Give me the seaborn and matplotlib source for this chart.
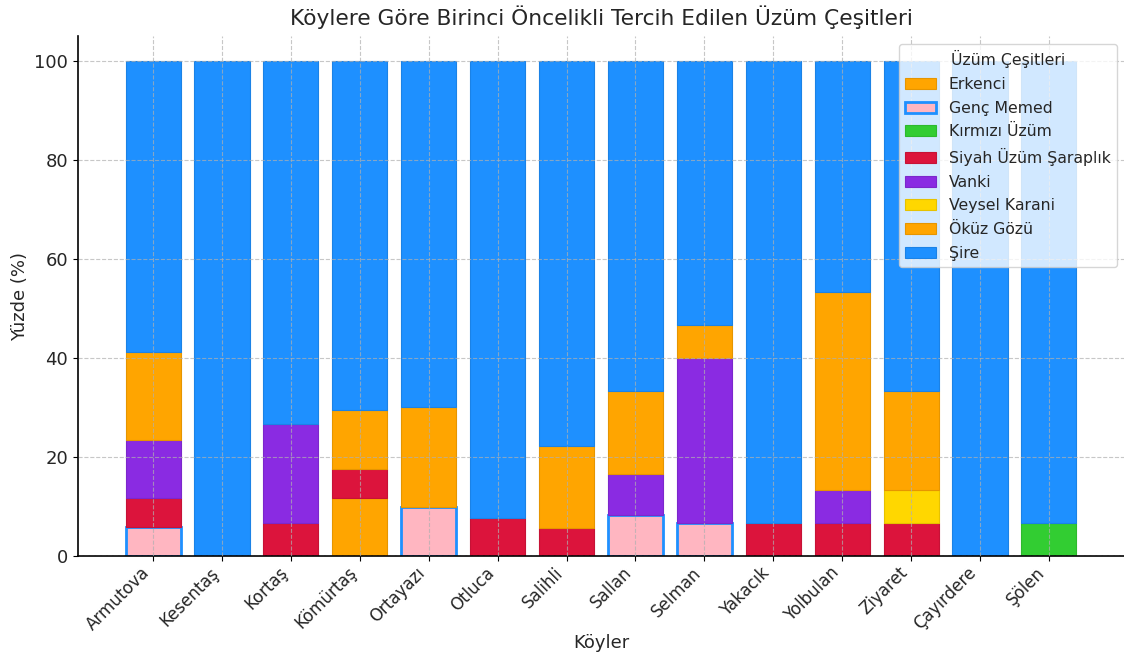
import matplotlib
matplotlib.use("Agg")
import matplotlib.pyplot as plt
import matplotlib.colors as mcolors
import seaborn as sns
import pandas as pd

villages = ["Armutova", "Kesentaş", "Kortaş", "Kömürtaş", "Ortayazı", "Otluca",
            "Salihli", "Sallan", "Selman", "Yakacık", "Yolbulan", "Ziyaret",
            "Çayırdere", "Şölen"]

# share (%) of each grape variety per village, stacked bottom to top
erkenci       = [0, 0, 0, 11.76, 0, 0, 0, 0, 0, 0, 0, 0, 0, 0]
genc_memed    = [5.88, 0, 0, 0, 10.0, 0, 0, 8.33, 6.67, 0, 0, 0, 0, 0]
kirmizi_uzum  = [0, 0, 0, 0, 0, 0, 0, 0, 0, 0, 0, 0, 0, 6.67]
siyah_uzum    = [5.88, 0, 6.67, 5.88, 0, 7.69, 5.56, 0, 0, 6.67, 6.67, 6.67, 0, 0]
vanki         = [11.76, 0, 20.0, 0, 0, 0, 0, 8.33, 33.33, 0, 6.67, 0, 0, 0]
veysel_karani = [0, 0, 0, 0, 0, 0, 0, 0, 0, 0, 0, 6.67, 0, 0]
okuz_gozu     = [17.65, 0, 0, 11.76, 20.0, 0, 16.67, 16.67, 6.67, 0, 40.0, 20.0, 0, 0]
sire          = [58.82, 100.0, 73.33, 70.59, 70.0, 92.31, 77.78, 66.67, 53.33,
                 93.33, 46.67, 66.67, 100.0, 93.33]

varieties = ["Erkenci", "Genç Memed", "Kırmızı Üzüm", "Siyah Üzüm Şaraplık",
             "Vanki", "Veysel Karani", "Öküz Gözü", "Şire"]
series = [erkenci, genc_memed, kirmizi_uzum, siyah_uzum, vanki,
          veysel_karani, okuz_gozu, sire]
colors = ["#FFA500", "#FFB6C1", "#32CD32", "#DC143C", "#8A2BE2",
          "#FFD700", "#FFA500", "#1E90FF"]

sns.set_style("white")
plt.rcParams["font.family"] = ["DejaVu Sans"]

fig = plt.figure(figsize=(11.24, 6.57), dpi=100)
ax = fig.add_axes([0.0694, 0.1537, 0.9306, 0.7913])

bottom = [0.0] * len(villages)
for name, vals, col in zip(varieties, series, colors):
    df = pd.DataFrame({"Köy": villages, "val": vals, "bottom": bottom})
    df = df[df["val"] > 0]
    if name == "Genç Memed":
        edge, lw = "#1E90FF", 2.0
    else:
        r, g, b = mcolors.to_rgb(col)
        edge, lw = (r * 0.9, g * 0.9, b * 0.9), 0.8
    sns.barplot(data=df, x="Köy", y="val", order=villages, color=col,
                saturation=1, width=0.8, bottom=df["bottom"].values,
                edgecolor=edge, linewidth=lw, ax=ax, label=name)
    bottom = [b + v for b, v in zip(bottom, vals)]

ax.set_xlim(-1.09, 14.09)
ax.set_ylim(0, 105)
ax.set_axisbelow(False)
ax.grid(True, linestyle="--", color="#b0b0b0", linewidth=0.8, alpha=0.7)
for side in ("top", "right"):
    ax.spines[side].set_visible(False)
for side in ("left", "bottom"):
    ax.spines[side].set_color("black")
    ax.spines[side].set_linewidth(1.2)
ax.tick_params(axis="both", length=3.5, color="black", bottom=True, left=True)
ax.tick_params(axis="x", labelsize=12, pad=2)
ax.tick_params(axis="y", labelsize=13)
plt.setp(ax.get_xticklabels(), rotation=45, ha="right")

ax.set_title("Köylere Göre Birinci Öncelikli Tercih Edilen Üzüm Çeşitleri",
             fontsize=15.7, pad=8)
ax.set_xlabel("Köyler", fontsize=13, labelpad=0)
ax.set_ylabel("Yüzde (%)", fontsize=13)

leg = ax.legend(title="Üzüm Çeşitleri", loc="upper right", fontsize=11.3,
                title_fontsize=11.3, framealpha=0.8, labelspacing=0.55,
                borderaxespad=0, bbox_to_anchor=(0.9933, 0.9846))

fig.savefig("out.png", dpi=100)
